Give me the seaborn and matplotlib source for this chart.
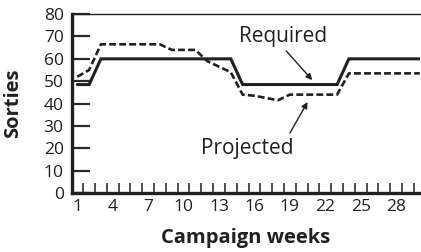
"""
Required vs projected sorties over the campaign weeks
"""

import pandas as pd
import numpy as np
import matplotlib.pyplot as plt
import seaborn as sns

# Data
weeks = list(range(1, 31))
required = [48.5, 48.5] + [60] * 12 + [48.5] * 9 + [60] * 7
projected = [52, 55, 66.5, 66.5, 66.5, 66.5, 66.5, 66.5, 64, 64,
             64, 59, 56.5, 54, 44, 43.5, 42.5, 41.5, 44, 44,
             44, 44, 44, 53.5, 53.5, 53.5, 53.5, 53.5, 53.5, 53.5]
x_labels = [1, 4, 7, 10, 13, 16, 19, 22, 25, 28]
y_ticks = [0, 10, 20, 30, 40, 50, 60, 70, 80]

INK = '#231f20'


def main():
    sns.set_style('ticks')
    plt.rcParams['font.family'] = ['Open Sans', 'DejaVu Sans']

    df = pd.DataFrame({'week': weeks, 'Required': required, 'Projected': projected})

    fig = plt.figure(figsize=(4.21, 2.52), dpi=100)
    ax = fig.add_axes([0.171, 0.234, 0.826, 0.710])

    sns.lineplot(data=df, x='week', y='Required', ax=ax, color=INK,
                 linewidth=2.2, solid_joinstyle='miter')
    sns.lineplot(data=df, x='week', y='Projected', ax=ax, color=INK,
                 linewidth=1.9, linestyle=(0, (2.6, 1.2)))

    ax.set_xlim(0.55, 30.0)
    ax.set_ylim(0, 80)

    ax.set_yticks(y_ticks)
    ax.set_xticks(x_labels)
    ax.set_xticks(np.arange(1.5, 30, 1.0), minor=True)
    ax.tick_params(axis='y', which='major', direction='in', length=13, width=1.6,
                   color='#2a2a2a', labelsize=12.5, pad=6, labelcolor=INK)
    ax.xaxis.set_tick_params(which='major', length=0, labelsize=12.5, pad=4,
                             labelcolor=INK)
    ax.xaxis.set_tick_params(which='minor', direction='in', length=7, width=1.1,
                             color=INK, bottom=True, top=False)

    for side in ['left', 'bottom']:
        ax.spines[side].set_linewidth(2.4)
        ax.spines[side].set_color(INK)
    ax.spines['top'].set_visible(True)
    ax.spines['top'].set_linewidth(1.0)
    ax.spines['top'].set_color(INK)
    ax.spines['right'].set_visible(False)

    ax.set_xlabel('Campaign weeks', fontsize=14.5, fontweight='bold', color=INK, labelpad=10)
    ax.set_ylabel('Sorties', fontsize=14.5, fontweight='bold', color=INK, labelpad=15)
    ax.grid(False)

    # annotations: labels and arrows placed separately
    arrow = dict(arrowstyle='-|>', color=INK, lw=1.0, mutation_scale=9,
                 shrinkA=0, shrinkB=0)
    ax.text(18.4, 67.6, 'Required', ha='center', va='baseline', fontsize=15, color=INK)
    ax.annotate('', xy=(20.9, 50.5), xytext=(18.7, 63.5), arrowprops=arrow)
    ax.text(15.4, 17.4, 'Projected', ha='center', va='baseline', fontsize=15, color=INK)
    ax.annotate('', xy=(20.5, 40.7), xytext=(19.0, 26.8), arrowprops=arrow)

    fig.savefig('out.png', dpi=100)
    plt.close(fig)


if __name__ == '__main__':
    main()
